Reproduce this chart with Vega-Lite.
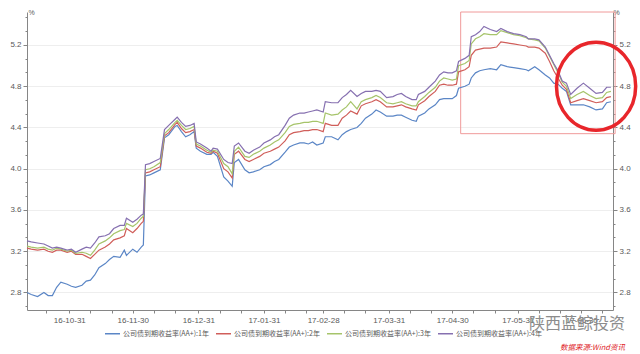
{
  "$schema": "https://vega.github.io/schema/vega-lite/v6.json",
  "width": 586,
  "height": 298,
  "autosize": "none",
  "padding": {"left": 27, "top": 12, "right": 27, "bottom": 44},
  "background": "white",
  "config": {"view": {"stroke": null}, "font": "Noto Sans CJK SC"},
  "title": {
    "text": "陕西蓝鲸投资",
    "subtitle": "数据来源:Wind资讯",
    "orient": "bottom",
    "anchor": "end",
    "frame": "group",
    "font": "Noto Sans CJK SC",
    "fontSize": 16,
    "fontWeight": "normal",
    "color": "#8c8c8c",
    "subtitleFont": "Noto Sans CJK SC",
    "subtitleFontSize": 7.5,
    "subtitleColor": "#e0262b",
    "subtitleFontStyle": "italic",
    "subtitlePadding": 12,
    "offset": -21,
    "dx": 12
  },
  "datasets": {
    "yields": [
      {"d": "2016-10-11", "1年": 2.80, "2年": 3.23, "3年": 3.25, "4年": 3.30},
      {"d": "2016-10-13", "1年": 2.78, "2年": 3.22, "3年": 3.24, "4年": 3.29},
      {"d": "2016-10-16", "1年": 2.76, "2年": 3.21, "3年": 3.23, "4年": 3.28},
      {"d": "2016-10-19", "1年": 2.80, "2年": 3.22, "3年": 3.24, "4年": 3.27},
      {"d": "2016-10-21", "1年": 2.77, "2年": 3.20, "3年": 3.22, "4年": 3.25},
      {"d": "2016-10-23", "1年": 2.77, "2年": 3.19, "3年": 3.21, "4年": 3.23},
      {"d": "2016-10-25", "1年": 2.85, "2年": 3.21, "3年": 3.23, "4年": 3.24},
      {"d": "2016-10-27", "1年": 2.90, "2年": 3.21, "3年": 3.22, "4年": 3.23},
      {"d": "2016-10-30", "1年": 2.88, "2年": 3.19, "3年": 3.20, "4年": 3.21},
      {"d": "2016-11-01", "1年": 2.86, "2年": 3.20, "3年": 3.21, "4年": 3.22},
      {"d": "2016-11-03", "1年": 2.85, "2年": 3.17, "3年": 3.18, "4年": 3.19},
      {"d": "2016-11-06", "1年": 2.87, "2年": 3.17, "3年": 3.19, "4年": 3.22},
      {"d": "2016-11-08", "1年": 2.91, "2年": 3.15, "3年": 3.18, "4年": 3.24},
      {"d": "2016-11-10", "1年": 2.92, "2年": 3.13, "3年": 3.16, "4年": 3.23},
      {"d": "2016-11-12", "1年": 2.97, "2年": 3.17, "3年": 3.21, "4年": 3.28},
      {"d": "2016-11-14", "1年": 3.04, "2年": 3.21, "3年": 3.27, "4年": 3.34},
      {"d": "2016-11-17", "1年": 3.08, "2年": 3.24, "3年": 3.30, "4年": 3.35},
      {"d": "2016-11-19", "1年": 3.12, "2年": 3.27, "3年": 3.33, "4年": 3.37},
      {"d": "2016-11-21", "1年": 3.15, "2年": 3.31, "3年": 3.37, "4年": 3.42},
      {"d": "2016-11-24", "1年": 3.14, "2年": 3.33, "3年": 3.40, "4年": 3.45},
      {"d": "2016-11-26", "1年": 3.21, "2年": 3.35, "3年": 3.41, "4年": 3.45},
      {"d": "2016-11-27", "1年": 3.16, "2年": 3.42, "3年": 3.47, "4年": 3.52},
      {"d": "2016-11-30", "1年": 3.22, "2年": 3.38, "3年": 3.44, "4年": 3.48},
      {"d": "2016-12-02", "1年": 3.19, "2年": 3.42, "3年": 3.47, "4年": 3.51},
      {"d": "2016-12-04", "1年": 3.24, "2年": 3.47, "3年": 3.52, "4年": 3.55},
      {"d": "2016-12-05", "1年": 3.26, "2年": 3.49, "3年": 3.54, "4年": 3.56},
      {"d": "2016-12-06", "1年": 3.93, "2年": 3.96, "3年": 3.99, "4年": 4.04},
      {"d": "2016-12-08", "1年": 3.94, "2年": 3.97, "3年": 4.00, "4年": 4.05},
      {"d": "2016-12-10", "1年": 3.96, "2年": 3.99, "3年": 4.02, "4年": 4.07},
      {"d": "2016-12-13", "1年": 3.99, "2年": 4.02, "3年": 4.06, "4年": 4.10},
      {"d": "2016-12-15", "1年": 4.30, "2年": 4.32, "3年": 4.34, "4年": 4.38},
      {"d": "2016-12-17", "1年": 4.33, "2年": 4.35, "3年": 4.38, "4年": 4.42},
      {"d": "2016-12-20", "1年": 4.41, "2年": 4.43, "3年": 4.45, "4年": 4.48},
      {"d": "2016-12-21", "1年": 4.42, "2年": 4.45, "3年": 4.47, "4年": 4.50},
      {"d": "2016-12-23", "1年": 4.36, "2年": 4.39, "3年": 4.42, "4年": 4.45},
      {"d": "2016-12-25", "1年": 4.31, "2年": 4.35, "3年": 4.38, "4年": 4.41},
      {"d": "2016-12-27", "1年": 4.33, "2年": 4.36, "3年": 4.39, "4年": 4.42},
      {"d": "2016-12-29", "1年": 4.36, "2年": 4.38, "3年": 4.41, "4年": 4.44},
      {"d": "2016-12-30", "1年": 4.20, "2年": 4.22, "3年": 4.24, "4年": 4.26},
      {"d": "2017-01-01", "1年": 4.17, "2年": 4.20, "3年": 4.22, "4年": 4.24},
      {"d": "2017-01-04", "1年": 4.14, "2年": 4.16, "3年": 4.18, "4年": 4.20},
      {"d": "2017-01-06", "1年": 4.14, "2年": 4.15, "3年": 4.16, "4年": 4.17},
      {"d": "2017-01-07", "1年": 4.16, "2年": 4.17, "3年": 4.18, "4年": 4.20},
      {"d": "2017-01-09", "1年": 4.12, "2年": 4.15, "3年": 4.17, "4年": 4.19},
      {"d": "2017-01-12", "1年": 3.92, "2年": 4.00, "3年": 4.05, "4年": 4.09},
      {"d": "2017-01-14", "1年": 3.88, "2年": 3.97, "3年": 4.02, "4年": 4.06},
      {"d": "2017-01-16", "1年": 3.83, "2年": 3.91, "3年": 3.95, "4年": 4.05},
      {"d": "2017-01-17", "1年": 4.06, "2年": 4.14, "3年": 4.17, "4年": 4.22},
      {"d": "2017-01-19", "1年": 4.09, "2年": 4.17, "3年": 4.21, "4年": 4.25},
      {"d": "2017-01-22", "1年": 3.99, "2年": 4.09, "3年": 4.12, "4年": 4.17},
      {"d": "2017-01-24", "1年": 3.96, "2年": 4.07, "3年": 4.11, "4年": 4.15},
      {"d": "2017-01-26", "1年": 3.97, "2年": 4.09, "3年": 4.14, "4年": 4.18},
      {"d": "2017-01-29", "1年": 3.99, "2年": 4.12, "3年": 4.17, "4年": 4.21},
      {"d": "2017-01-31", "1年": 4.02, "2年": 4.15, "3年": 4.20, "4年": 4.25},
      {"d": "2017-02-03", "1年": 4.04, "2年": 4.17, "3年": 4.23, "4年": 4.28},
      {"d": "2017-02-05", "1年": 4.07, "2年": 4.19, "3年": 4.26, "4年": 4.31},
      {"d": "2017-02-07", "1年": 4.09, "2年": 4.21, "3年": 4.28, "4年": 4.33},
      {"d": "2017-02-10", "1年": 4.16, "2年": 4.27, "3年": 4.35, "4年": 4.42},
      {"d": "2017-02-12", "1年": 4.21, "2年": 4.33, "3年": 4.41, "4年": 4.49},
      {"d": "2017-02-14", "1年": 4.23, "2年": 4.35, "3年": 4.43, "4年": 4.52},
      {"d": "2017-02-17", "1年": 4.25, "2年": 4.36, "3年": 4.44, "4年": 4.54},
      {"d": "2017-02-19", "1年": 4.25, "2年": 4.37, "3年": 4.45, "4年": 4.54},
      {"d": "2017-02-21", "1年": 4.24, "2年": 4.37, "3年": 4.45, "4年": 4.55},
      {"d": "2017-02-23", "1年": 4.26, "2年": 4.38, "3年": 4.46, "4年": 4.56},
      {"d": "2017-02-25", "1年": 4.23, "2年": 4.38, "3年": 4.46, "4年": 4.57},
      {"d": "2017-02-28", "1年": 4.25, "2年": 4.36, "3年": 4.44, "4年": 4.55},
      {"d": "2017-03-01", "1年": 4.31, "2年": 4.44, "3年": 4.54, "4年": 4.65},
      {"d": "2017-03-04", "1年": 4.31, "2年": 4.42, "3年": 4.52, "4年": 4.64},
      {"d": "2017-03-07", "1年": 4.28, "2年": 4.42, "3年": 4.53, "4年": 4.64},
      {"d": "2017-03-09", "1年": 4.33, "2年": 4.49, "3年": 4.57, "4年": 4.69},
      {"d": "2017-03-11", "1年": 4.36, "2年": 4.52, "3年": 4.60, "4年": 4.72},
      {"d": "2017-03-13", "1年": 4.38, "2年": 4.56, "3年": 4.65, "4年": 4.76},
      {"d": "2017-03-16", "1年": 4.40, "2年": 4.53, "3年": 4.58, "4年": 4.70},
      {"d": "2017-03-18", "1年": 4.44, "2年": 4.61, "3年": 4.65, "4年": 4.73},
      {"d": "2017-03-20", "1年": 4.49, "2年": 4.63, "3年": 4.67, "4年": 4.75},
      {"d": "2017-03-23", "1年": 4.53, "2年": 4.65, "3年": 4.69, "4年": 4.75},
      {"d": "2017-03-25", "1年": 4.57, "2年": 4.67, "3年": 4.71, "4年": 4.76},
      {"d": "2017-03-27", "1年": 4.55, "2年": 4.65, "3年": 4.69, "4年": 4.75},
      {"d": "2017-03-30", "1年": 4.51, "2年": 4.60, "3年": 4.64, "4年": 4.69},
      {"d": "2017-04-02", "1年": 4.51, "2年": 4.60, "3年": 4.63, "4年": 4.70},
      {"d": "2017-04-04", "1年": 4.52, "2年": 4.61, "3年": 4.64, "4年": 4.72},
      {"d": "2017-04-06", "1年": 4.52, "2年": 4.62, "3年": 4.65, "4年": 4.73},
      {"d": "2017-04-08", "1年": 4.50, "2年": 4.60, "3年": 4.63, "4年": 4.70},
      {"d": "2017-04-11", "1年": 4.47, "2年": 4.58, "3年": 4.61, "4年": 4.67},
      {"d": "2017-04-13", "1年": 4.46, "2年": 4.57, "3年": 4.61, "4年": 4.67},
      {"d": "2017-04-14", "1年": 4.51, "2年": 4.62, "3年": 4.65, "4年": 4.72},
      {"d": "2017-04-17", "1年": 4.54, "2年": 4.66, "3年": 4.70, "4年": 4.75},
      {"d": "2017-04-19", "1年": 4.58, "2年": 4.70, "3年": 4.74, "4年": 4.79},
      {"d": "2017-04-22", "1年": 4.62, "2年": 4.75, "3年": 4.79, "4年": 4.85},
      {"d": "2017-04-24", "1年": 4.67, "2年": 4.81, "3年": 4.85, "4年": 4.91},
      {"d": "2017-04-26", "1年": 4.68, "2年": 4.82, "3年": 4.88, "4年": 4.94},
      {"d": "2017-04-28", "1年": 4.68, "2年": 4.81, "3年": 4.87, "4年": 4.93},
      {"d": "2017-04-30", "1年": 4.68, "2年": 4.81, "3年": 4.86, "4年": 4.93},
      {"d": "2017-05-02", "1年": 4.71, "2年": 4.82, "3年": 4.87, "4年": 4.95},
      {"d": "2017-05-03", "1年": 4.78, "2年": 4.94, "3年": 5.00, "4年": 5.04},
      {"d": "2017-05-06", "1年": 4.80, "2年": 4.96, "3年": 5.02, "4年": 5.07},
      {"d": "2017-05-08", "1年": 4.82, "2年": 4.99, "3年": 5.05, "4年": 5.10},
      {"d": "2017-05-09", "1年": 4.88, "2年": 5.10, "3年": 5.21, "4年": 5.28},
      {"d": "2017-05-11", "1年": 4.93, "2年": 5.15, "3年": 5.26, "4年": 5.30},
      {"d": "2017-05-13", "1年": 4.95, "2年": 5.16, "3年": 5.28, "4年": 5.33},
      {"d": "2017-05-15", "1年": 4.96, "2年": 5.17, "3年": 5.31, "4年": 5.38},
      {"d": "2017-05-18", "1年": 4.97, "2年": 5.17, "3年": 5.30, "4年": 5.35},
      {"d": "2017-05-21", "1年": 4.96, "2年": 5.18, "3年": 5.30, "4年": 5.33},
      {"d": "2017-05-23", "1年": 5.01, "2年": 5.23, "3年": 5.34, "4年": 5.36},
      {"d": "2017-05-26", "1年": 4.99, "2年": 5.22, "3年": 5.32, "4年": 5.33},
      {"d": "2017-05-29", "1年": 4.98, "2年": 5.21, "3年": 5.30, "4年": 5.31},
      {"d": "2017-06-01", "1年": 4.97, "2年": 5.20, "3年": 5.29, "4年": 5.30},
      {"d": "2017-06-04", "1年": 4.96, "2年": 5.19, "3年": 5.27, "4年": 5.28},
      {"d": "2017-06-05", "1年": 4.95, "2年": 5.18, "3年": 5.26, "4年": 5.26},
      {"d": "2017-06-08", "1年": 4.99, "2年": 5.18, "3年": 5.25, "4年": 5.26},
      {"d": "2017-06-10", "1年": 4.96, "2年": 5.17, "3年": 5.24, "4年": 5.25},
      {"d": "2017-06-13", "1年": 4.91, "2年": 5.12, "3年": 5.17, "4年": 5.18},
      {"d": "2017-06-15", "1年": 4.88, "2年": 5.04, "3年": 5.09, "4年": 5.10},
      {"d": "2017-06-17", "1年": 4.83, "2年": 4.95, "3年": 5.01, "4年": 5.02},
      {"d": "2017-06-19", "1年": 4.82, "2年": 4.88, "3年": 4.93, "4年": 4.95},
      {"d": "2017-06-21", "1年": 4.78, "2年": 4.81, "3年": 4.84, "4年": 4.85},
      {"d": "2017-06-23", "1年": 4.75, "2年": 4.77, "3年": 4.80, "4年": 4.83},
      {"d": "2017-06-25", "1年": 4.62, "2年": 4.64, "3年": 4.68, "4年": 4.72},
      {"d": "2017-06-28", "1年": 4.62, "2年": 4.66, "3年": 4.72, "4年": 4.78},
      {"d": "2017-07-01", "1年": 4.62, "2年": 4.68, "3年": 4.75, "4年": 4.83},
      {"d": "2017-07-04", "1年": 4.60, "2年": 4.66, "3年": 4.71, "4年": 4.78},
      {"d": "2017-07-07", "1年": 4.57, "2年": 4.64, "3年": 4.68, "4年": 4.73},
      {"d": "2017-07-10", "1年": 4.58, "2年": 4.65, "3年": 4.69, "4年": 4.74},
      {"d": "2017-07-12", "1年": 4.64, "2年": 4.69, "3年": 4.74, "4年": 4.79},
      {"d": "2017-07-14", "1年": 4.65, "2年": 4.70, "3年": 4.75, "4年": 4.79}
    ],
    "box": [{"d": "2017-05-04", "x2": "2017-07-16", "y1": 4.34, "y2": 5.52}],
    "ring": [{"d": "2017-07-07", "c": 4.8}]
  },
  "encoding": {
    "x": {
      "field": "d",
      "type": "temporal",
      "scale": {
        "type": "utc",
        "domain": [
          {"year": 2016, "month": 10, "date": 11, "utc": true},
          {"year": 2017, "month": 7, "date": 15, "utc": true}
        ]
      },
      "axis": {
        "title": null,
        "grid": false,
        "values": [
          {"year": 2016, "month": 10, "date": 20, "utc": true},
          {"year": 2016, "month": 10, "date": 31, "utc": true},
          {"year": 2016, "month": 11, "date": 10, "utc": true},
          {"year": 2016, "month": 11, "date": 20, "utc": true},
          {"year": 2016, "month": 11, "date": 30, "utc": true},
          {"year": 2016, "month": 12, "date": 10, "utc": true},
          {"year": 2016, "month": 12, "date": 20, "utc": true},
          {"year": 2016, "month": 12, "date": 31, "utc": true},
          {"year": 2017, "month": 1, "date": 10, "utc": true},
          {"year": 2017, "month": 1, "date": 20, "utc": true},
          {"year": 2017, "month": 1, "date": 31, "utc": true},
          {"year": 2017, "month": 2, "date": 10, "utc": true},
          {"year": 2017, "month": 2, "date": 20, "utc": true},
          {"year": 2017, "month": 2, "date": 28, "utc": true},
          {"year": 2017, "month": 3, "date": 10, "utc": true},
          {"year": 2017, "month": 3, "date": 20, "utc": true},
          {"year": 2017, "month": 3, "date": 31, "utc": true},
          {"year": 2017, "month": 4, "date": 10, "utc": true},
          {"year": 2017, "month": 4, "date": 20, "utc": true},
          {"year": 2017, "month": 4, "date": 30, "utc": true},
          {"year": 2017, "month": 5, "date": 10, "utc": true},
          {"year": 2017, "month": 5, "date": 20, "utc": true},
          {"year": 2017, "month": 5, "date": 31, "utc": true},
          {"year": 2017, "month": 6, "date": 10, "utc": true},
          {"year": 2017, "month": 6, "date": 20, "utc": true},
          {"year": 2017, "month": 6, "date": 30, "utc": true},
          {"year": 2017, "month": 7, "date": 10, "utc": true}
        ],
        "labelExpr": "utcdate(datum.value + 86400000) == 1 ? utcFormat(datum.value, '%y-%m-%d') : ''",
        "labelOverlap": false,
        "labelFlush": false,
        "labelFont": "Liberation Sans",
        "labelFontSize": 8,
        "labelColor": "#595959",
        "labelPadding": 3,
        "tickSize": 3,
        "tickColor": "#868686",
        "domainColor": "#868686"
      }
    }
  },
  "layer": [
    {
      "data": {"name": "box"},
      "mark": {"type": "rect", "fillOpacity": 0, "fill": "white", "stroke": "#f09a9a", "strokeWidth": 1},
      "encoding": {
        "x2": {"field": "x2"},
        "y": {"field": "y1", "type": "quantitative", "axis": null},
        "y2": {"field": "y2"}
      }
    },
    {
      "data": {"name": "yields"},
      "transform": [{"fold": ["1年", "2年", "3年", "4年"], "as": ["k", "v"]}],
      "mark": {"type": "line", "strokeWidth": 1.2},
      "encoding": {
        "y": {
          "field": "v",
          "type": "quantitative",
          "scale": {"domain": [2.63, 5.52], "nice": false, "zero": false},
          "axis": {
            "orient": "left",
            "values": [2.6667, 2.8, 2.9333, 3.0667, 3.2, 3.3333, 3.4667, 3.6, 3.7333, 3.8667, 4.0, 4.1333, 4.2667, 4.4, 4.5333, 4.6667, 4.8, 4.9333, 5.0667, 5.2, 5.3333, 5.4667],
            "labelExpr": "abs(datum.value*10 - round(datum.value*10)) < 0.05 && round(datum.value*10) % 4 == 0 ? format(datum.value, '.1f') : ''",
            "labelFont": "Liberation Sans",
            "labelFontSize": 8,
            "labelColor": "#595959",
            "labelPadding": 2,
            "tickSize": {"condition": {"test": "abs(datum.value*10 - round(datum.value*10)) < 0.05", "value": 4}, "value": 2},
            "tickColor": "#868686",
            "domainColor": "#868686",
            "grid": true,
            "gridColor": "#eeeeee",
            "gridOpacity": {"condition": {"test": "abs(datum.value*10 - round(datum.value*10)) < 0.05", "value": 1}, "value": 0},
            "title": "%",
            "titleAngle": 0,
            "titleX": 1,
            "titleY": 3,
            "titleAlign": "left",
            "titleBaseline": "bottom",
            "titleFont": "Liberation Sans",
            "titleFontSize": 7,
            "titleFontWeight": "normal",
            "titleColor": "#595959"
          }
        },
        "color": {
          "field": "k",
          "type": "nominal",
          "scale": {"domain": ["1年", "2年", "3年", "4年"], "range": ["#5b86c6", "#d05e5a", "#a6c46a", "#8670b0"]},
          "legend": {
            "orient": "none",
            "legendX": 77,
            "legendY": 313,
            "direction": "horizontal",
            "title": null,
            "symbolType": "stroke",
            "symbolSize": 225,
            "symbolStrokeWidth": 1.5,
            "labelExpr": "'公司债到期收益率(AA+):' + datum.label",
            "labelFont": "Noto Sans CJK SC",
            "labelFontSize": 7,
            "labelColor": "#595959",
            "labelOffset": 2,
            "columnPadding": 4
          }
        }
      }
    },
    {
      "data": {"name": "ring"},
      "mark": {
        "type": "point",
        "shape": "M -0.9,0 A 0.9,1 0 1,1 0.9,0 A 0.9,1 0 1,1 -0.9,0 Z",
        "size": 7744,
        "filled": false,
        "stroke": "#e8262b",
        "strokeWidth": 3.5,
        "opacity": 1
      },
      "encoding": {
        "y": {
          "field": "c",
          "type": "quantitative",
          "axis": {
            "orient": "right",
            "values": [2.6667, 2.8, 2.9333, 3.0667, 3.2, 3.3333, 3.4667, 3.6, 3.7333, 3.8667, 4.0, 4.1333, 4.2667, 4.4, 4.5333, 4.6667, 4.8, 4.9333, 5.0667, 5.2, 5.3333, 5.4667],
            "labelExpr": "abs(datum.value*10 - round(datum.value*10)) < 0.05 && round(datum.value*10) % 4 == 0 ? format(datum.value, '.1f') : ''",
            "labelFont": "Liberation Sans",
            "labelFontSize": 8,
            "labelColor": "#595959",
            "labelPadding": 2,
            "tickSize": {"condition": {"test": "abs(datum.value*10 - round(datum.value*10)) < 0.05", "value": 4}, "value": 2},
            "tickColor": "#868686",
            "domainColor": "#868686",
            "grid": false,
            "title": "%",
            "titleAngle": 0,
            "titleX": 0,
            "titleY": 3,
            "titleAlign": "left",
            "titleBaseline": "bottom",
            "titleFont": "Liberation Sans",
            "titleFontSize": 7,
            "titleFontWeight": "normal",
            "titleColor": "#595959"
          }
        }
      }
    }
  ],
  "resolve": {"axis": {"y": "independent"}}
}
